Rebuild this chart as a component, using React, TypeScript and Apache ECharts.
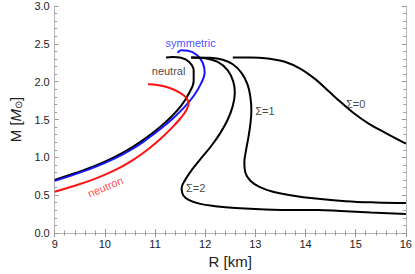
import React, { useEffect, useRef } from "react";
import * as echarts from "echarts";

// Mass-radius curves (R in km, M in solar masses)
const symmetricR = [9.0, 9.4, 9.8, 10.2, 10.55, 10.85, 11.1, 11.35, 11.58, 11.78, 11.92, 11.99, 11.95, 11.84, 11.66, 11.52, 11.45];
const symmetricM = [0.69, 0.775, 0.87, 0.985, 1.11, 1.245, 1.37, 1.51, 1.66, 1.82, 1.98, 2.12, 2.25, 2.35, 2.41, 2.415, 2.38];

const neutralR = [9.0, 9.4, 9.8, 10.2, 10.55, 10.85, 11.1, 11.33, 11.53, 11.68, 11.77, 11.77, 11.68, 11.52, 11.35, 11.22];
const neutralM = [0.70, 0.79, 0.885, 1.005, 1.135, 1.27, 1.40, 1.54, 1.69, 1.85, 2.01, 2.15, 2.26, 2.315, 2.325, 2.32];

const neutronR = [9.0, 9.4, 9.8, 10.2, 10.55, 10.85, 11.1, 11.32, 11.5, 11.62, 11.67, 11.62, 11.48, 11.28, 11.05, 10.86];
const neutronM = [0.546, 0.625, 0.715, 0.83, 0.96, 1.10, 1.24, 1.38, 1.51, 1.62, 1.71, 1.79, 1.86, 1.92, 1.955, 1.965];

const sigma2R = [11.72, 12.0, 12.25, 12.45, 12.56, 12.59, 12.55, 12.45, 12.3, 12.12, 11.92, 11.74, 11.6, 11.53, 11.56, 11.68, 11.9, 12.2, 12.6, 13.2, 13.8, 14.25, 14.7, 15.3, 16.0];
const sigma2M = [2.32, 2.31, 2.26, 2.15, 2.0, 1.85, 1.68, 1.50, 1.32, 1.15, 0.99, 0.84, 0.70, 0.59, 0.50, 0.435, 0.385, 0.355, 0.33, 0.31, 0.303, 0.305, 0.29, 0.27, 0.25];

const sigma1R = [11.72, 12.1, 12.35, 12.55, 12.72, 12.84, 12.9, 12.92, 12.9, 12.86, 12.81, 12.78, 12.8, 12.9, 13.08, 13.35, 13.7, 14.2, 14.8, 15.4, 16.0];
const sigma1M = [2.32, 2.315, 2.29, 2.23, 2.12, 1.97, 1.80, 1.62, 1.44, 1.26, 1.08, 0.93, 0.80, 0.69, 0.61, 0.545, 0.50, 0.455, 0.42, 0.403, 0.395];

const sigma0R = [12.55, 12.9, 13.25, 13.6, 13.9, 14.2, 14.45, 14.7, 14.95, 15.25, 15.6, 16.0];
const sigma0M = [2.32, 2.32, 2.305, 2.26, 2.17, 2.03, 1.88, 1.73, 1.59, 1.45, 1.32, 1.18];

const labelTexts = ["symmetric", "neutral", "neutron", "Σ=2", "Σ=1", "Σ=0"];
const labelR = [11.71, 11.27, 10.01, 11.81, 13.19, 15.0];
const labelM = [2.51, 2.14, 0.61, 0.60, 1.61, 1.70];

const xTicks = [9, 10, 11, 12, 13, 14, 15, 16];
const yTicks = [0.0, 0.5, 1.0, 1.5, 2.0, 2.5, 3.0];

const pairs = (r: number[], m: number[]) => r.map((v, i) => [v, m[i]]);

const FONT = "Liberation Sans, Arial, sans-serif";

export default function App() {
  const ref = useRef<HTMLDivElement>(null);
  useEffect(() => {
    if (!ref.current) return;
    const chart = echarts.init(ref.current, null, { renderer: "svg" });
    const frame = "#b4b4b4";
    const tickCol = "#999";
    const baseAxis = {
      type: "value" as const,
      axisLine: { show: true, lineStyle: { color: frame, width: 1 } },
      axisTick: { show: true, inside: true, length: 4, lineStyle: { color: tickCol } },
      minorTick: { show: true, splitNumber: 5, length: 2.5, lineStyle: { color: tickCol } },
      splitLine: { show: false },
      minorSplitLine: { show: false },
    };
    const line = (name: string, r: number[], m: number[], color: string) => ({
      type: "line",
      name,
      data: pairs(r, m),
      smooth: 0.4,
      showSymbol: false,
      symbol: "none",
      lineStyle: { color, width: 2 },
      xAxisIndex: 0,
      yAxisIndex: 0,
      z: 3,
    });
    const labelColors = ["#1a1aff", "#111", "#ff1a1a", "#111", "#111", "#111"];
    chart.setOption({
      animation: false,
      grid: { left: 43, right: 6, top: 6, bottom: 41, containLabel: false },
      xAxis: [
        {
          ...baseAxis,
          position: "bottom",
          min: xTicks[0],
          max: xTicks[xTicks.length - 1],
          interval: 1,
          axisLabel: { color: "#222", fontSize: 11, fontFamily: FONT, margin: 5 },
          name: "R [km]",
          nameLocation: "middle",
          nameGap: 21,
          nameTextStyle: { color: "#222", fontSize: 15, fontFamily: FONT },
        },
        {
          ...baseAxis,
          position: "top",
          min: xTicks[0],
          max: xTicks[xTicks.length - 1],
          interval: 1,
          axisLabel: { show: false },
        },
      ],
      yAxis: [
        {
          ...baseAxis,
          position: "left",
          min: yTicks[0],
          max: yTicks[yTicks.length - 1],
          interval: 0.5,
          axisLabel: {
            color: "#222",
            fontSize: 11,
            fontFamily: FONT,
            margin: 5,
            formatter: (v: number) => v.toFixed(1),
          },
          name: "{a|M [}{b|M}{c|⊙}{a|]}",
          nameLocation: "middle",
          nameGap: 22,
          nameRotate: 90,
          nameTextStyle: {
            color: "#222",
            fontFamily: FONT,
            rich: {
              a: { fontSize: 15, fontFamily: FONT, color: "#222" },
              b: { fontSize: 15, fontFamily: FONT, color: "#222", fontStyle: "italic" },
              c: { fontSize: 10, fontFamily: FONT, color: "#222", verticalAlign: "bottom", padding: [6, 0, 0, 0] },
            },
          },
        },
        {
          ...baseAxis,
          position: "right",
          min: yTicks[0],
          max: yTicks[yTicks.length - 1],
          interval: 0.5,
          axisLabel: { show: false },
        },
      ],
      series: [
        line("neutral", neutralR, neutralM, "#000"),
        line("symmetric", symmetricR, symmetricM, "#1515ff"),
        line("neutron", neutronR, neutronM, "#ff1010"),
        line("Σ=2", sigma2R, sigma2M, "#000"),
        line("Σ=1", sigma1R, sigma1M, "#000"),
        line("Σ=0", sigma0R, sigma0M, "#000"),
        {
          type: "scatter",
          symbolSize: 0,
          xAxisIndex: 0,
          yAxisIndex: 0,
          z: 5,
          data: labelTexts.map((t, i) => ({
            value: [labelR[i], labelM[i]],
            name: t,
            label: {
              show: true,
              position: "inside",
              formatter: t,
              color: labelColors[i],
              fontSize: 11,
              fontFamily: FONT,
              rotate: t === "neutron" ? 23 : 0,
            },
          })),
        },
      ],
    });
    return () => chart.dispose();
  }, []);
  return <div ref={ref} style={{ width: 415, height: 274, position: "absolute", left: 0, top: 0 }} />;
}
